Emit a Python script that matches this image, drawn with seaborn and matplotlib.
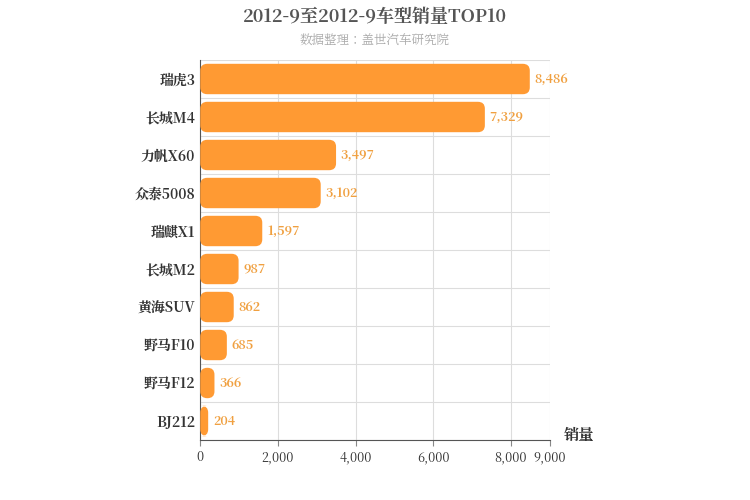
import matplotlib
matplotlib.use("Agg")
import matplotlib.pyplot as plt
import seaborn as sns
import pandas as pd
from matplotlib import font_manager
from matplotlib.patches import FancyBboxPatch

# pick whatever CJK family is actually registered
cjk = [f.name for f in font_manager.fontManager.ttflist if "CJK" in f.name]
cjk_name = "Noto Sans CJK SC" if "Noto Sans CJK SC" in cjk else (cjk[0] if cjk else "DejaVu Sans")
plt.rcParams["font.family"] = "sans-serif"
plt.rcParams["font.sans-serif"] = [cjk_name, "DejaVu Sans"]

models = ["瑞虎3", "长城M4", "力帆X60", "众泰5008", "瑞麒X1", "长城M2", "黄海SUV", "野马F10", "野马F12", "BJ212"]
sales = [8486, 7329, 3497, 3102, 1597, 987, 862, 685, 366, 204]
xticks = [0, 2000, 4000, 6000, 8000, 9000]

df = pd.DataFrame({"model": models, "sales": sales})
bar_color = "#ff9a33"

fig = plt.figure(figsize=(7.5, 5), dpi=100)
ax = fig.add_axes([0.267, 0.12, 0.466, 0.76])
sns.barplot(data=df, x="sales", y="model", color=bar_color, width=0.8, ax=ax)

# swap plain bars for rounded ones at the same positions
for p in list(ax.patches):
    x0, y0, w, h = p.get_x(), p.get_y(), p.get_width(), p.get_height()
    p.remove()
    ax.add_patch(FancyBboxPatch((x0, y0), w, h,
                                boxstyle="round,pad=0,rounding_size=180",
                                mutation_aspect=0.001, fc=bar_color, ec="none", zorder=3))

for i, v in enumerate(sales):
    ax.text(v + 120, i, f"{v:,}", va="center", ha="left", fontsize=9,
            color="#f0a040", fontweight="bold", zorder=4)

ax.set_xlim(0, 9000)
ax.set_ylim(len(models) - 0.5, -0.5)
ax.set_xticks(xticks)
ax.set_xticklabels([f"{t:,}" for t in xticks], fontsize=9, color="#333")
ax.set_yticks(range(len(models)))
ax.set_yticklabels(models, fontsize=10, fontweight="bold", color="#333")
ax.set_yticks([i - 0.5 for i in range(len(models) + 1)], minor=True)
ax.grid(axis="x", color="#dddddd", lw=0.8, zorder=0)
ax.grid(axis="y", which="minor", color="#dddddd", lw=0.8, zorder=0)
ax.tick_params(axis="y", which="both", length=0)
ax.tick_params(axis="x", length=4, color="#888")
ax.set_xlabel("")
ax.set_ylabel("")
for s in ["top", "right"]:
    ax.spines[s].set_visible(False)
ax.spines["left"].set_color("#555")
ax.spines["bottom"].set_color("#555")

ax.text(1.04, -0.01, "销量", transform=ax.transAxes, fontsize=11, fontweight="bold",
        color="#333", ha="left", va="bottom")
fig.text(0.5, 0.965, "2012-9至2012-9车型销量TOP10", ha="center", va="center",
         fontsize=13, fontweight="bold", color="#555")
fig.text(0.5, 0.918, "数据整理：盖世汽车研究院", ha="center", va="center",
         fontsize=9, color="#aaaaaa")

fig.savefig("out.png", dpi=100)
